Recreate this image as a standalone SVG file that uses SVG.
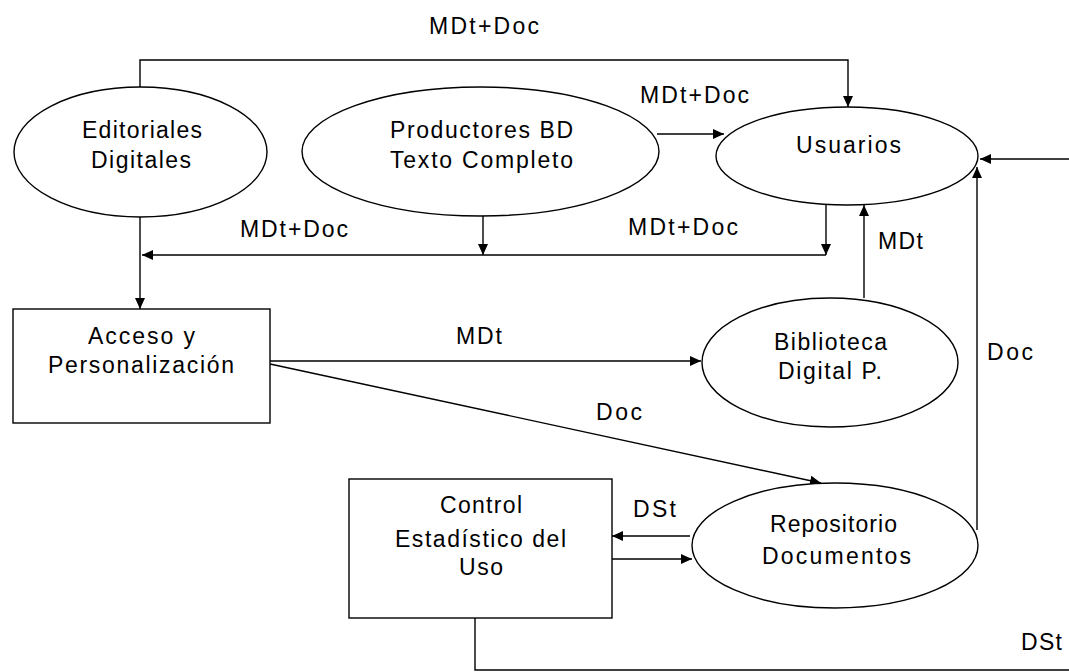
<svg xmlns="http://www.w3.org/2000/svg" width="1069" height="672" viewBox="0 0 1069 672">
<style>
  .shape { fill: #ffffff; stroke: #000000; stroke-width: 1.4; }
  .conn { fill: none; stroke: #000000; stroke-width: 1.4; }
  text { font-family: "Liberation Sans", Arial, sans-serif; font-size: 23px; fill: #000000; }
</style>
<defs>
  <marker id="arr" markerUnits="userSpaceOnUse" markerWidth="12" markerHeight="12" viewBox="0 0 12 12" refX="11" refY="6" orient="auto">
    <path d="M0,1 L11,6 L0,11 Z" fill="#000000"/>
  </marker>
</defs>
<rect x="0" y="0" width="1069" height="672" fill="#ffffff"/>

<g id="connectors">
  <path class="conn" d="M140,87 V60 H848 V107" marker-end="url(#arr)"/>
  <path class="conn" d="M657,134 H724" marker-end="url(#arr)"/>
  <path class="conn" d="M483,206 V255" marker-end="url(#arr)"/>
  <path class="conn" d="M826,205 V255" marker-end="url(#arr)"/>
  <path class="conn" d="M826,255 H142" marker-end="url(#arr)"/>
  <path class="conn" d="M140,217 V309" marker-end="url(#arr)"/>
  <path class="conn" d="M270,361 H701" marker-end="url(#arr)"/>
  <path class="conn" d="M270,364 L821,483" marker-end="url(#arr)"/>
  <path class="conn" d="M864,298 V205" marker-end="url(#arr)"/>
  <path class="conn" d="M977,530 V167" marker-end="url(#arr)"/>
  <path class="conn" d="M1069,159 H980" marker-end="url(#arr)"/>
  <path class="conn" d="M690,536 H612" marker-end="url(#arr)"/>
  <path class="conn" d="M612,559 H692" marker-end="url(#arr)"/>
  <path class="conn" d="M475,618 V670 H1069"/>
  <text x="429" y="34" textLength="110" lengthAdjust="spacing">MDt+Doc</text>
  <text x="640" y="103" textLength="109" lengthAdjust="spacing">MDt+Doc</text>
  <text x="240" y="237" textLength="108" lengthAdjust="spacing">MDt+Doc</text>
  <text x="628" y="235" textLength="110" lengthAdjust="spacing">MDt+Doc</text>
  <text x="878" y="249" textLength="45" lengthAdjust="spacing">MDt</text>
  <text x="456" y="344" textLength="46" lengthAdjust="spacing">MDt</text>
  <text x="987" y="360" textLength="46" lengthAdjust="spacing">Doc</text>
  <text x="596" y="420" textLength="46" lengthAdjust="spacing">Doc</text>
  <text x="633" y="517" textLength="43" lengthAdjust="spacing">DSt</text>
  <text x="1021" y="650" textLength="41" lengthAdjust="spacing">DSt</text>
</g>

<g id="editoriales">
  <ellipse class="shape" cx="140.5" cy="152" rx="126.5" ry="65"/>
  <text x="82" y="138" textLength="120" lengthAdjust="spacing">Editoriales</text>
  <text x="91" y="168" textLength="100" lengthAdjust="spacing">Digitales</text>
</g>

<g id="productores">
  <ellipse class="shape" cx="480.5" cy="151.5" rx="178.5" ry="64.5"/>
  <text x="390" y="138" textLength="183" lengthAdjust="spacing">Productores BD</text>
  <text x="390" y="168" textLength="183" lengthAdjust="spacing">Texto Completo</text>
</g>

<g id="usuarios">
  <ellipse class="shape" cx="847" cy="156" rx="131" ry="49"/>
  <text x="796" y="153" textLength="105" lengthAdjust="spacing">Usuarios</text>
</g>

<g id="acceso">
  <rect class="shape" x="13" y="309" width="257" height="114"/>
  <text x="88" y="344" textLength="107" lengthAdjust="spacing">Acceso y</text>
  <text x="48" y="373" textLength="186" lengthAdjust="spacing">Personalización</text>
</g>

<g id="biblioteca">
  <ellipse class="shape" cx="830" cy="362.5" rx="128" ry="64.5"/>
  <text x="774" y="350" textLength="113" lengthAdjust="spacing">Biblioteca</text>
  <text x="778" y="379" textLength="104" lengthAdjust="spacing">Digital P.</text>
</g>

<g id="control">
  <rect class="shape" x="349" y="479" width="263" height="139"/>
  <text x="440" y="513" textLength="82" lengthAdjust="spacing">Control</text>
  <text x="395" y="547" textLength="171" lengthAdjust="spacing">Estadístico del</text>
  <text x="459" y="575" textLength="44" lengthAdjust="spacing">Uso</text>
</g>

<g id="repositorio">
  <ellipse class="shape" cx="835" cy="545.5" rx="143" ry="62.5"/>
  <text x="770" y="532" textLength="127" lengthAdjust="spacing">Repositorio</text>
  <text x="762" y="564" textLength="149" lengthAdjust="spacing">Documentos</text>
</g>
</svg>
